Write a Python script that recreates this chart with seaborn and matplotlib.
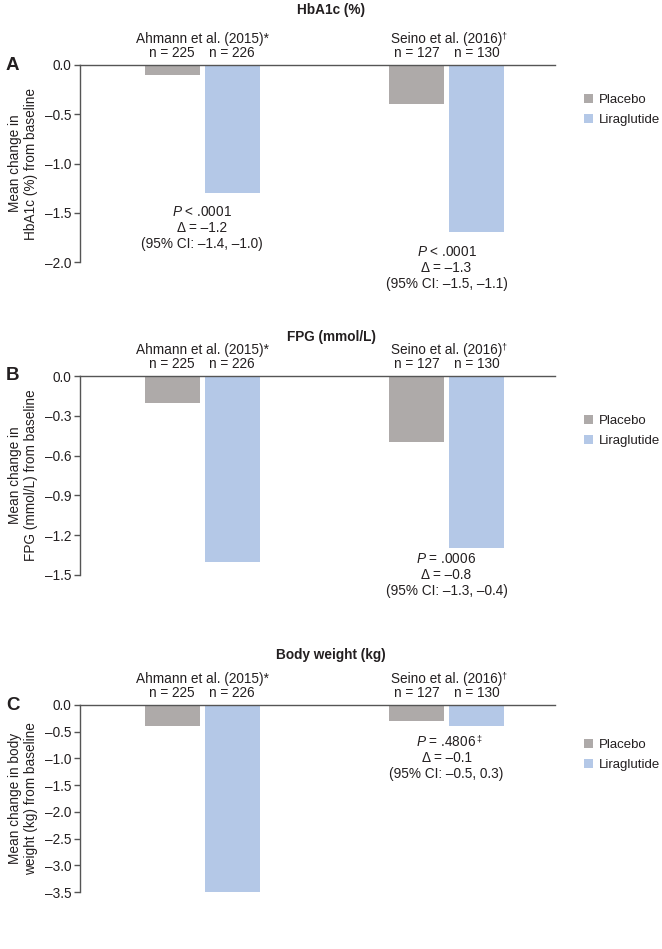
import matplotlib
matplotlib.use("Agg")
import matplotlib.pyplot as plt
from matplotlib.patches import Patch
import seaborn as sns
import pandas as pd

# ---------------- data ----------------
studies = ["Ahmann et al. (2015)*", "Seino et al. (2016)"]
study_marks = ["", "\u2020"]
groups = ["Placebo", "Liraglutide"]
n_labels = [["n = 225", "n = 226"], ["n = 127", "n = 130"]]

panel_letters = ["A", "B", "C"]
panel_titles = ["HbA1c (%)", "FPG (mmol/L)", "Body weight (kg)"]
ylabels = ["Mean change in\nHbA1c (%) from baseline",
           "Mean change in\nFPG (mmol/L) from baseline",
           "Mean change in body\nweight (kg) from baseline"]

hba1c_placebo = [-0.1, -0.4]
hba1c_lira = [-1.3, -1.7]
fpg_placebo = [-0.2, -0.5]
fpg_lira = [-1.4, -1.3]
weight_placebo = [-0.4, -0.3]
weight_lira = [-3.5, -0.4]

hba1c_ticks = [0.0, -0.5, -1.0, -1.5, -2.0]
fpg_ticks = [0.0, -0.3, -0.6, -0.9, -1.2, -1.5]
weight_ticks = [0.0, -0.5, -1.0, -1.5, -2.0, -2.5, -3.0, -3.5]

hba1c_notes = [["$P$ < .0001", "\u0394 = \u20131.2", "(95% CI: \u20131.4, \u20131.0)"],
               ["$P$ < .0001", "\u0394 = \u20131.3", "(95% CI: \u20131.5, \u20131.1)"]]
fpg_notes = [["$P$ < .0001", "\u0394 = \u20131.3", "(95% CI: \u20131.7, \u20130.9)"],
             ["$P$ = .0006", "\u0394 = \u20130.8", "(95% CI: \u20131.3, \u20130.4)"]]
weight_notes = [["$P$ < .0001", "\u0394 = \u20133.1", "(95% CI: \u20133.9, \u20132.4)"],
                ["$P$ = .4806", "\u0394 = \u20130.1", "(95% CI: \u20130.5, 0.3)"]]
note_marks = [["", ""], ["", ""], ["", "\u2021"]]

# ---------------- style ----------------
sns.set_theme(style="white")
FAM = ["Liberation Sans", "DejaVu Sans"]
plt.rcParams["font.family"] = FAM
plt.rcParams["mathtext.fontset"] = "custom"
plt.rcParams["mathtext.rm"] = "Liberation Sans"
plt.rcParams["mathtext.it"] = "Liberation Sans:italic"
plt.rcParams["mathtext.bf"] = "Liberation Sans:bold"
TXT = "#231f20"
AXC = "#555555"
palette = {"Placebo": "#aeaaa9", "Liraglutide": "#b4c8e7"}
FS = 9.8

fig = plt.figure(figsize=(6.62, 9.49), dpi=100)
W, H = 662.0, 949.0

# axes pixel boxes: (top, bottom)
boxes = [(65, 262), (376, 575), (705, 892)]
title_px = [10, 337, 655]
legend_y = [0.88, 0.83, 0.845]
left_px, right_px = 80, 555

panels = [
    (hba1c_placebo, hba1c_lira, hba1c_ticks, hba1c_notes, [-1.49, -1.90]),
    (fpg_placebo, fpg_lira, fpg_ticks, fpg_notes, [-1.52, -1.38]),
    (weight_placebo, weight_lira, weight_ticks, weight_notes, [-3.83, -0.70]),
]

for k, (pl, li, ticks, notes, note_y) in enumerate(panels):
    top, bot = boxes[k]
    ax = fig.add_axes([left_px / W, 1 - bot / H, (right_px - left_px) / W, (bot - top) / H])
    df = pd.DataFrame({
        "study": studies * 2,
        "group": [groups[0]] * 2 + [groups[1]] * 2,
        "value": pl + li,
    })
    sns.barplot(data=df, x="study", y="value", hue="group", palette=palette,
                width=0.49, gap=0.08, saturation=1, ax=ax, legend=False,
                errorbar=None, edgecolor="none")
    ax.set_xlim(-0.5, 1.444)
    ax.set_ylim(min(ticks), 0)
    ax.set_yticks(ticks)
    ax.set_yticklabels([f"{t:.1f}".replace("-", "\u2013") if t != 0 else "0.0" for t in ticks],
                       fontsize=FS, color=TXT)
    ax.set_xticks([])
    ax.set_xlabel("")
    ax.set_ylabel(ylabels[k], fontsize=FS, color=TXT, linespacing=1.2, labelpad=5)
    for s in ["right", "bottom"]:
        ax.spines[s].set_visible(False)
    for s in ["left", "top"]:
        ax.spines[s].set_color(AXC)
        ax.spines[s].set_linewidth(1.0)
    ax.tick_params(axis="y", direction="out", length=4, width=1, color=AXC, pad=2, left=True)

    # study & n labels
    for i, st in enumerate(studies):
        t = ax.annotate(st, xy=(i, 1), xycoords=("data", "axes fraction"), xytext=(0, 15.5),
                        textcoords="offset points", ha="center", va="baseline",
                        fontsize=FS, color=TXT)
        if study_marks[i]:
            ax.annotate(study_marks[i], xy=(1.0, 1.0), xycoords=t, xytext=(-0.3, 1.0),
                        textcoords="offset points", ha="left", va="top",
                        fontsize=6.5, color=TXT)
        for j in range(2):
            xb = i + (j - 0.5) * 0.245
            ax.annotate(n_labels[i][j], xy=(xb, 1), xycoords=("data", "axes fraction"),
                        xytext=(0, 5.5), textcoords="offset points", ha="center", va="baseline",
                        fontsize=FS, color=TXT)
        # annotations
        for m, line in enumerate(notes[i]):
            tt = ax.annotate(line, xy=(i, note_y[i]), xycoords="data",
                             xytext=(0, -11.5 * m), textcoords="offset points",
                             ha="center", va="center", fontsize=FS, color=TXT)
            if m == 0 and note_marks[k][i]:
                ax.annotate(note_marks[k][i], xy=(1.0, 1.0), xycoords=tt, xytext=(-0.3, 1.0),
                            textcoords="offset points", ha="left", va="top",
                            fontsize=6.5, color=TXT)

    # legend
    handles = [Patch(facecolor=palette[g], edgecolor="none", label=g) for g in groups]
    ax.legend(handles=handles, loc="upper left", bbox_to_anchor=(1.05, legend_y[k]),
              frameon=False, fontsize=9.5, handlelength=0.65, handleheight=0.65,
              handletextpad=0.45, labelspacing=0.6, borderaxespad=0, labelcolor=TXT)

    # title and panel letter
    fig.text(0.5, 1 - title_px[k] / H, panel_titles[k], ha="center", va="center",
             fontsize=FS, fontweight="bold", color=TXT)
    fig.text(6 / W, 1 - top / H, panel_letters[k], ha="left", va="center",
             fontsize=13.5, fontweight="bold", color=TXT)

fig.savefig("out.png", dpi=100)
